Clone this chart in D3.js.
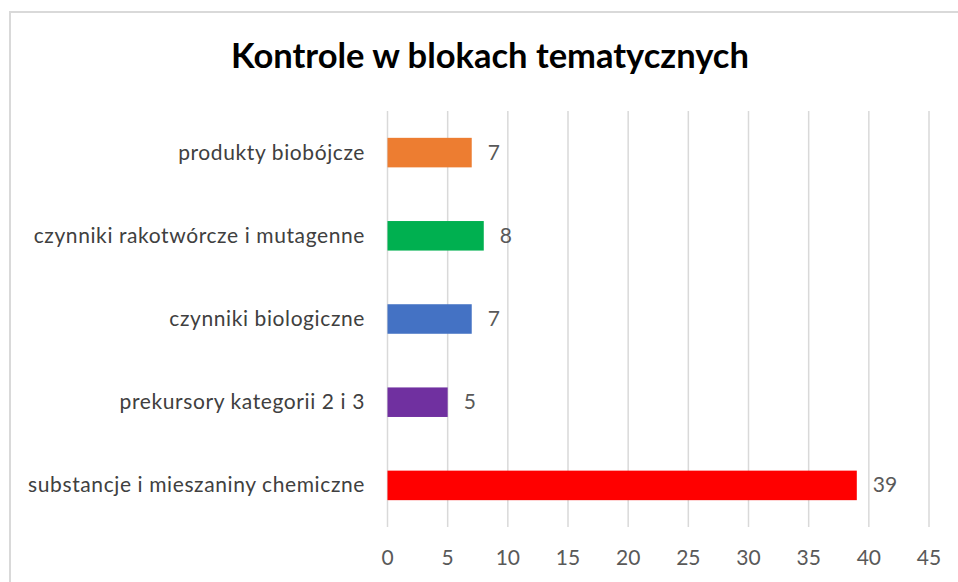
<!DOCTYPE html>
<html>
<head>
<meta charset="utf-8">
<script src="https://cdn.jsdelivr.net/npm/d3@7"></script>
<style>
  body { margin: 0; background: #fff; }
  text { font-family: Lato, "Open Sans", sans-serif; }
</style>
</head>
<body>
<script>
var width = 958;
var height = 582;

var categories = ["produkty biobójcze", "czynniki rakotwórcze i mutagenne", "czynniki biologiczne", "prekursory kategorii 2 i 3", "substancje i mieszaniny chemiczne"];
var values = [7, 8, 7, 5, 39];
var colors = ["#ED7D31", "#00B050", "#4472C4", "#7030A0", "#FF0000"];
var ticks = [0, 5, 10, 15, 20, 25, 30, 35, 40, 45];

var svg = d3.select("body")
            .append("svg")
            .attr("width", width)
            .attr("height", height);

// chart frame (cut off on right/bottom)
svg.append("rect")
   .attr("x", 10)
   .attr("y", 12)
   .attr("width", 960)
   .attr("height", 600)
   .attr("fill", "#fff")
   .attr("stroke", "#d9d9d9")
   .attr("stroke-width", 2);

svg.append("text")
   .attr("x", 490)
   .attr("y", 68)
   .attr("text-anchor", "middle")
   .attr("font-size", "34.5px")
   .attr("font-weight", "bold")
   .attr("fill", "#000")
   .text("Kontrole w blokach tematycznych");

var x = d3.scaleLinear().domain([0, 45]).range([387.5, 929]);
var y = d3.scaleBand().domain(categories).range([111, 527]).paddingInner(0.645).paddingOuter(0.3225);

// gridlines
svg.selectAll("line.grid")
   .data(ticks)
   .enter()
   .append("line")
   .attr("class", "grid")
   .attr("x1", function(d) { return x(d); })
   .attr("x2", function(d) { return x(d); })
   .attr("y1", 111)
   .attr("y2", 527)
   .attr("stroke", "#d9d9d9")
   .attr("stroke-width", 1.5);

// tick labels
svg.selectAll("text.tick")
   .data(ticks)
   .enter()
   .append("text")
   .attr("class", "tick")
   .attr("x", function(d) { return x(d); })
   .attr("y", 565)
   .attr("text-anchor", "middle")
   .attr("font-size", "21px")
   .attr("fill", "#595959")
   .text(function(d) { return d; });

// bars
svg.selectAll("rect.bar")
   .data(values)
   .enter()
   .append("rect")
   .attr("class", "bar")
   .attr("x", x(0))
   .attr("y", function(d, i) { return y(categories[i]); })
   .attr("width", function(d) { return x(d) - x(0); })
   .attr("height", y.bandwidth())
   .attr("fill", function(d, i) { return colors[i]; });

// category labels
svg.selectAll("text.cat")
   .data(categories)
   .enter()
   .append("text")
   .attr("class", "cat")
   .attr("x", 365)
   .attr("y", function(d) { return y(d) + y.bandwidth() / 2 + 7; })
   .attr("text-anchor", "end")
   .attr("font-size", "21px")
   .attr("letter-spacing", "0.6px")
   .attr("fill", "#404040")
   .text(function(d) { return d; });

// value labels
svg.selectAll("text.val")
   .data(values)
   .enter()
   .append("text")
   .attr("class", "val")
   .attr("x", function(d) { return x(d) + 16; })
   .attr("y", function(d, i) { return y(categories[i]) + y.bandwidth() / 2 + 7; })
   .attr("font-size", "21px")
   .attr("fill", "#595959")
   .text(function(d) { return d; });
</script>
</body>
</html>
